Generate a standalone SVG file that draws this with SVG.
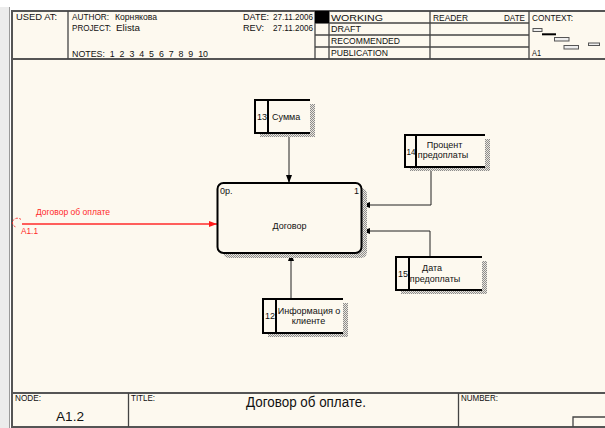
<svg xmlns="http://www.w3.org/2000/svg" width="605" height="428" viewBox="0 0 605 428">
<defs>
<style>
.t{font-family:"Liberation Sans",Arial,sans-serif;font-size:9px;fill:#111}
.tm{text-anchor:middle}
.pre{white-space:pre}
.fr{stroke:#444;stroke-width:1.3;fill:none}
.fr2{stroke:#555;stroke-width:2;fill:none}
.st{stroke:#000;stroke-width:2;fill:none}
.bg{fill:#fdf9ef}
.sh{fill:url(#hatch)}
.cn{stroke:#222;stroke-width:1;fill:none}
.red{stroke:#ff2a2a;stroke-width:1.5;fill:none}
.rt{fill:#ff2a2a}
.ic{stroke:#555;stroke-width:1;fill:#eee}
</style>
<pattern id="hatch" width="2" height="2" patternUnits="userSpaceOnUse">
<rect width="2" height="2" fill="#ebe7de"/>
<rect x="0" y="0" width="1" height="1" fill="#8c8c8c"/>
<rect x="1" y="1" width="1" height="1" fill="#8c8c8c"/>
</pattern>
<marker id="ah" viewBox="0 0 8 6" refX="8" refY="3" markerWidth="8" markerHeight="6" markerUnits="userSpaceOnUse" orient="auto">
<path d="M0,0 L8,3 L0,6 z" fill="#000"/>
</marker>
<marker id="ahr" viewBox="0 0 8 6" refX="8" refY="3" markerWidth="8" markerHeight="6" markerUnits="userSpaceOnUse" orient="auto">
<path d="M0,0 L8,3 L0,6 z" fill="#ff1a1a"/>
</marker>
</defs>

<!-- page -->
<rect x="0" y="0" width="605" height="428" fill="#ffffff"/>
<rect x="0" y="7" width="9" height="421" fill="#ececec"/>
<line x1="9.5" y1="7" x2="9.5" y2="428" stroke="#9a9a9a" stroke-width="1"/>
<rect x="12" y="11" width="593" height="417" class="bg"/>

<!-- header frame -->
<g id="header">
<path class="fr2" d="M12,428 V11 H605"/>
<line class="fr2" x1="12" y1="59" x2="605" y2="59"/>
<line class="fr" x1="68" y1="11" x2="68" y2="59"/>
<line class="fr" x1="315" y1="11" x2="315" y2="59"/>
<line class="fr" x1="329" y1="11" x2="329" y2="59"/>
<line class="fr" x1="430" y1="11" x2="430" y2="59"/>
<line class="fr" x1="529" y1="11" x2="529" y2="59"/>
<line class="fr" x1="315" y1="23" x2="529" y2="23"/>
<line class="fr" x1="315" y1="35" x2="529" y2="35"/>
<line class="fr" x1="315" y1="47" x2="529" y2="47"/>
<rect x="315" y="11" width="14" height="12" fill="#000"/>
<text class="t" x="16" y="20" textLength="41" lengthAdjust="spacingAndGlyphs">USED AT:</text>
<text class="t" x="72" y="20" textLength="37" lengthAdjust="spacingAndGlyphs">AUTHOR:</text>
<text class="t" x="115" y="20" textLength="42" lengthAdjust="spacingAndGlyphs">Корнякова</text>
<text class="t" x="72" y="31" textLength="39" lengthAdjust="spacingAndGlyphs">PROJECT:</text>
<text class="t" x="116" y="31" textLength="24" lengthAdjust="spacingAndGlyphs">Elista</text>
<text class="t pre" x="72" y="57" textLength="136" lengthAdjust="spacingAndGlyphs">NOTES:  1  2  3  4  5  6  7  8  9  10</text>
<text class="t" x="243" y="20" textLength="26" lengthAdjust="spacingAndGlyphs">DATE:</text>
<text class="t" x="273" y="20" textLength="40" lengthAdjust="spacingAndGlyphs">27.11.2006</text>
<text class="t" x="243" y="31" textLength="21" lengthAdjust="spacingAndGlyphs">REV:</text>
<text class="t" x="273" y="31" textLength="40" lengthAdjust="spacingAndGlyphs">27.11.2006</text>
<text class="t" x="331" y="21" textLength="52" lengthAdjust="spacingAndGlyphs">WORKING</text>
<text class="t" x="331" y="32" textLength="30" lengthAdjust="spacingAndGlyphs">DRAFT</text>
<text class="t" x="331" y="44" textLength="69" lengthAdjust="spacingAndGlyphs">RECOMMENDED</text>
<text class="t" x="331" y="56" textLength="57" lengthAdjust="spacingAndGlyphs">PUBLICATION</text>
<text class="t" x="433" y="21" textLength="35" lengthAdjust="spacingAndGlyphs">READER</text>
<text class="t" x="504" y="21" textLength="21" lengthAdjust="spacingAndGlyphs">DATE</text>
<text class="t" x="532" y="21" textLength="41" lengthAdjust="spacingAndGlyphs">CONTEXT:</text>
<text class="t" x="532" y="56" textLength="9" lengthAdjust="spacingAndGlyphs">A1</text>
<rect class="ic" x="533" y="28.5" width="9" height="3"/>
<rect x="542" y="33.3" width="14" height="2" fill="#000"/>
<rect class="ic" x="554.5" y="37.5" width="14.5" height="3.5"/>
<rect class="ic" x="564" y="45.5" width="14.5" height="3.5"/>
<rect class="ic" x="588.5" y="43" width="11" height="2.5"/>
</g>

<!-- footer -->
<g id="footer">
<line class="fr2" x1="12" y1="393" x2="605" y2="393"/>
<line class="fr2" x1="12" y1="427" x2="605" y2="427"/>
<line class="fr" x1="128.5" y1="393" x2="128.5" y2="427"/>
<line class="fr" x1="458.5" y1="393" x2="458.5" y2="427"/>
<path class="fr" d="M573,427 V417 H605"/>
<text class="t" x="15" y="401" textLength="26" lengthAdjust="spacingAndGlyphs">NODE:</text>
<text class="t" x="131" y="401" textLength="24" lengthAdjust="spacingAndGlyphs">TITLE:</text>
<text class="t" x="461" y="401" textLength="37" lengthAdjust="spacingAndGlyphs">NUMBER:</text>
<text class="t" x="56" y="421" style="font-size:13px" textLength="28" lengthAdjust="spacingAndGlyphs">A1.2</text>
<text class="t" x="246" y="407" style="font-size:14px" textLength="120" lengthAdjust="spacingAndGlyphs">Договор об оплате.</text>
</g>

<!-- connectors -->
<g id="connectors">
<path class="cn" d="M289,133 V183" marker-end="url(#ah)"/>
<path class="cn" d="M431,167 V205 H362" marker-end="url(#ah)"/>
<path class="cn" d="M430,257 V231 H362" marker-end="url(#ah)"/>
<path class="cn" d="M291,299 V253" marker-end="url(#ah)"/>
<path class="red" d="M22,224 H217" marker-end="url(#ahr)"/>
<path d="M21,219.5 A5,4.5 0 1 0 16,227" stroke="#ff2a2a" stroke-width="1" stroke-dasharray="2,1.5" fill="none"/>
<text class="t rt" x="36" y="215" textLength="74" lengthAdjust="spacingAndGlyphs">Договор об оплате</text>
<text class="t rt" x="21" y="234" textLength="17" lengthAdjust="spacingAndGlyphs">A1.1</text>
</g>

<!-- main activity -->
<g id="node-dogovor">
<rect class="sh" x="223" y="188" width="144" height="70" rx="6"/>
<rect class="bg" x="217.5" y="183" width="144" height="70" rx="6" stroke="#000" stroke-width="2"/>
<text class="t" x="220" y="194">0р.</text>
<text class="t" x="354" y="194">1</text>
<text class="t tm" x="289.5" y="229">Договор</text>
</g>

<g id="node-summa">
<rect class="sh" x="260" y="104" width="55" height="33"/>
<rect class="bg" x="255" y="100" width="55" height="33"/>
<rect class="st" x="255" y="100" width="13" height="33"/>
<line class="st" x1="268" y1="100" x2="310" y2="100"/>
<line class="st" x1="268" y1="133" x2="310" y2="133"/>
<text class="t" x="257" y="120">13</text>
<text class="t" x="272" y="120">Сумма</text>
</g>

<g id="node-procent">
<rect class="sh" x="410" y="139" width="80" height="32"/>
<rect class="bg" x="405" y="135" width="80" height="32"/>
<rect class="st" x="405" y="135" width="11" height="32"/>
<line class="st" x1="416" y1="135" x2="485" y2="135"/>
<line class="st" x1="416" y1="167" x2="485" y2="167"/>
<text class="t" x="406.5" y="155" textLength="9" lengthAdjust="spacingAndGlyphs">14</text>
<text class="t tm" x="444.5" y="148">Процент</text>
<text class="t tm" x="443" y="158">предоплаты</text>
</g>

<g id="node-data">
<rect class="sh" x="401" y="261" width="86" height="33"/>
<rect class="bg" x="396" y="257" width="86" height="33"/>
<rect class="st" x="396" y="257" width="13" height="33"/>
<line class="st" x1="409" y1="257" x2="482" y2="257"/>
<line class="st" x1="409" y1="290" x2="482" y2="290"/>
<text class="t" x="398" y="277">15</text>
<text class="t tm" x="432" y="271">Дата</text>
<text class="t tm" x="435" y="282">предоплаты</text>
</g>

<g id="node-info">
<rect class="sh" x="268" y="303" width="80" height="34"/>
<rect class="bg" x="263" y="299" width="80" height="34"/>
<rect class="st" x="263" y="299" width="13" height="34"/>
<line class="st" x1="276" y1="299" x2="343" y2="299"/>
<line class="st" x1="276" y1="333" x2="343" y2="333"/>
<text class="t" x="265" y="319">12</text>
<text class="t tm" x="309" y="314">Информация о</text>
<text class="t tm" x="308.5" y="324">клиенте</text>
</g>
</svg>
